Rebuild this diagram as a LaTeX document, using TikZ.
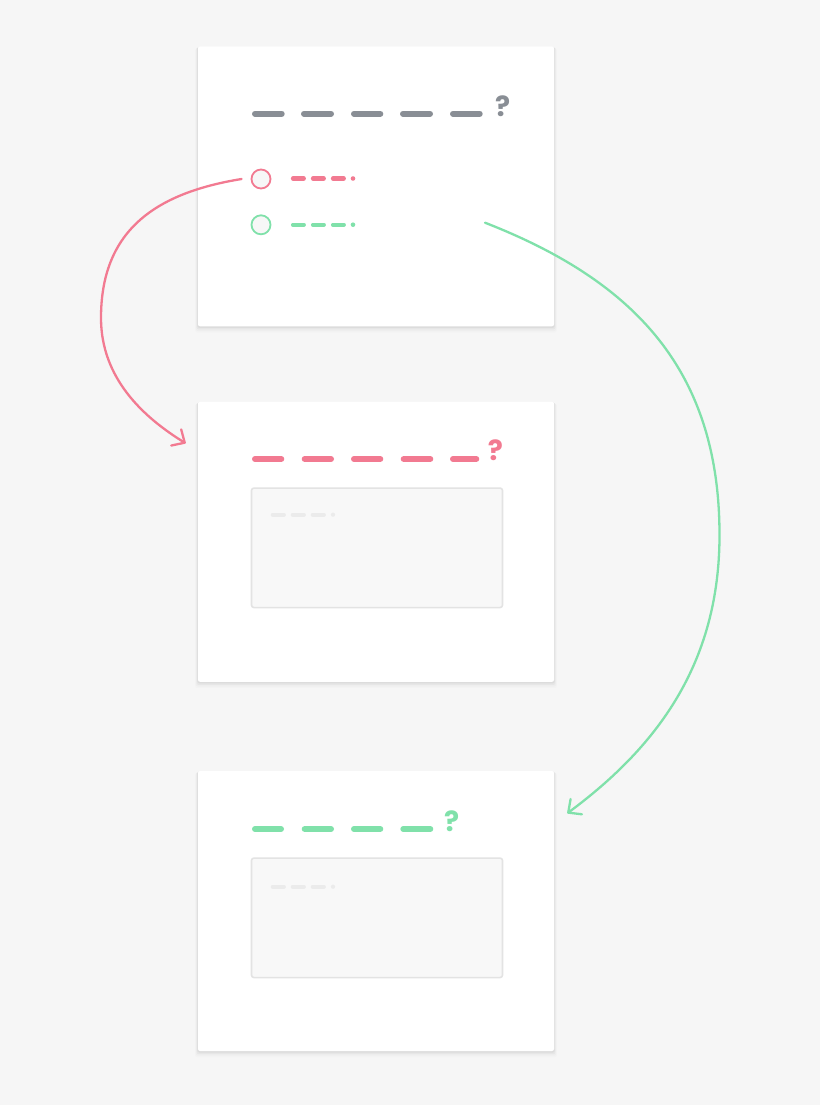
\documentclass[tikz,border=0pt]{standalone}
\usepackage{fontspec}
\newfontfamily\qfont{Poppins}
\usetikzlibrary{arrows.meta,shadows}
\definecolor{bg}{HTML}{F6F6F6}
\definecolor{pinkc}{HTML}{F27A91}
\definecolor{greenc}{HTML}{80E1AA}
\definecolor{greyc}{HTML}{898E95}
\definecolor{boxfill}{HTML}{F8F8F8}
\definecolor{boxline}{HTML}{E3E3E3}
\definecolor{faint}{HTML}{EBEBEB}
\definecolor{circfill}{HTML}{F7F7F7}
\tikzset{
 card/.style={fill=white, rounded corners=2pt, inner sep=0pt, minimum width=356pt, minimum height=280pt,
   general shadow={fill=black, opacity=0.012, shadow yshift=-4pt, shadow scale=1.016},
   general shadow={fill=black, opacity=0.02, shadow yshift=-3pt, shadow scale=1.012},
   general shadow={fill=black, opacity=0.03, shadow yshift=-2pt, shadow scale=1.008},
   general shadow={fill=black, opacity=0.04, shadow yshift=-1pt, shadow scale=1.004}},
 titledash/.style={line width=6pt, line cap=round},
 smalldash/.style={line width=4.2pt, line cap=round},
 textbox/.style={fill=boxfill, draw=boxline, line width=1.6pt, rounded corners=2.5pt, inner sep=0pt, minimum width=251pt, minimum height=119.5pt},
 radio/.style={circle, fill=circfill, line width=1.8pt, minimum size=19pt, inner sep=0pt},
 qmark/.style={font=\qfont\bfseries\fontsize{28}{28}\selectfont, inner sep=0pt, anchor=base},
 flow/.style={line width=2.3pt, line cap=round, -{Straight Barb[length=10pt,width=19pt,round]}},
}
\begin{document}
\begin{tikzpicture}[x=1pt,y=-1pt]
\fill[bg] (0,0) rectangle (820,1105);
\useasboundingbox (0,0) rectangle (820,1105);

% cards
\node[card] (card1) at (376,186.3) {};
\node[card] (card2) at (376,541.8) {};
\node[card] (card3) at (376,911) {};

% card 1 title
\foreach \a/\b in {255/281.7, 304/331, 354/380.3, 403/430, 453/479.7}
  \draw[titledash, greyc] (\a,113.7) -- (\b,113.7);
\node[qmark, text=greyc] (q1) at (502.7,116.7) {?};

% options
\node[radio, draw=pinkc] (optpink) at (261,179) {};
\node[radio, draw=greenc] (optgreen) at (261,224.8) {};
\foreach \a in {293,313,333} {
  \draw[smalldash, pinkc] (\a,178.5) -- (\a+10.8,178.5);
  \draw[smalldash, greenc] (\a,224.7) -- (\a+10.8,224.7);
}
\fill[pinkc] (353,178.5) circle (2.3pt);
\fill[greenc] (353,224.7) circle (2.3pt);

% card 2
\foreach \a/\b in {255/281.3, 304.7/331, 354/380.3, 403.7/430.3, 453/476.3}
  \draw[titledash, pinkc] (\a,459) -- (\b,459);
\node[qmark, text=pinkc] (q2) at (495.5,460.5) {?};
\node[textbox] (box2) at (377,547.8) {};
\foreach \a in {272.8,292.8,312.8}
  \draw[smalldash, faint] (\a,514.7) -- (\a+11,514.7);
\fill[faint] (333,514.7) circle (2.1pt);

% card 3
\foreach \a/\b in {255/281, 304.7/331, 354/380.3, 403.3/430.3}
  \draw[titledash, greenc] (\a,829) -- (\b,829);
\node[qmark, text=greenc] (q3) at (451.7,831.5) {?};
\node[textbox] (box3) at (377,917.8) {};
\foreach \a in {272.8,292.8,312.8}
  \draw[smalldash, faint] (\a,886.7) -- (\a+11,886.7);
\fill[faint] (333,886.7) circle (2.1pt);

% connectors
\coordinate (pstart) at ([xshift=-9pt]optpink.west);
\coordinate (pend) at (185.7,443.3);
\coordinate (gstart) at (485,222.7);
\coordinate (gend) at (567.3,813.3);
\draw[flow, pinkc] (pstart) .. controls (152,193.5) and (101,233) .. (101,318)
  .. controls (101,378) and (143,417) .. (pend);
\draw[flow, greenc] (gstart) .. controls (634,280.8) and (719.5,370) .. (719.5,535)
  .. controls (719.5,665) and (655.6,747.8) .. (gend);
\end{tikzpicture}
\end{document}
